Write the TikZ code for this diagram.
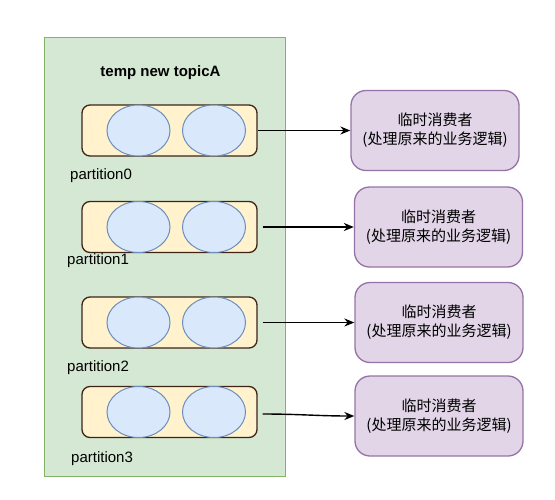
\documentclass[tikz,border=0pt]{standalone}
\usepackage{fontspec}
\setmainfont{Liberation Sans}
\newfontfamily\cjk{Noto Sans CJK SC}
\usetikzlibrary{shapes.geometric,arrows.meta}
\definecolor{gfill}{HTML}{D5E8D4}
\definecolor{gline}{HTML}{82B366}
\definecolor{yfill}{HTML}{FFF2CC}
\definecolor{yline}{HTML}{3D2417}
\definecolor{bfill}{HTML}{DAE8FC}
\definecolor{bline}{HTML}{6C8EBF}
\definecolor{pfill}{HTML}{E1D5E7}
\definecolor{pline}{HTML}{9673A6}
\tikzset{
  topicbox/.style={draw=gline,fill=gfill,line width=1.3pt,minimum width=241pt,minimum height=439pt,inner sep=0pt,anchor=north west},
  partbox/.style={draw=yline,fill=yfill,line width=1.3pt,rounded corners=8pt,minimum width=175pt,minimum height=51pt,inner sep=0pt},
  msg/.style={ellipse,draw=bline,fill=bfill,line width=1pt,minimum width=63pt,minimum height=51pt,inner sep=0pt},
  consumer/.style={draw=pline,fill=pfill,line width=1.3pt,rounded corners=15pt,minimum width=168pt,minimum height=80pt,inner sep=0pt,align=center,font=\cjk\fontsize{15}{19}\selectfont},
  plabel/.style={anchor=west,inner sep=0pt,font=\fontsize{15}{18}\selectfont},
  conn/.style={line width=1.4pt,-{Stealth[length=10pt,width=8pt]}}
}
\begin{document}
\begin{tikzpicture}[x=1pt,y=-1pt]
\useasboundingbox (0,0) rectangle (555,499);
\node[topicbox] (topic) at (44,37) {};
\node[font=\bfseries\fontsize{15}{18}\selectfont] (title) at (160.5,73) {temp new topicA};
% partitions
\node[partbox] (P0) at (169.5,130.5) {};
\node[partbox] (P1) at (169.5,227) {};
\node[partbox] (P2) at (169.5,322.5) {};
\node[partbox] (P3) at (169.5,412) {};
\foreach \i/\y in {0/130.5,1/227,2/322.5,3/412}{
  \node[msg] (m\i a) at (138.5,\y) {};
  \node[msg] (m\i b) at (214,\y) {};
}
\node[plabel] (L0) at (70,176) {partition0};
\node[plabel] (L1) at (67,261) {partition1};
\node[plabel] (L2) at (67,368) {partition2};
\node[plabel] (L3) at (71,459) {partition3};
% consumers
\node[consumer] (C0) at (435,130.5) {临时消费者\\(处理原来的业务逻辑)};
\node[consumer] (C1) at (438.5,227) {临时消费者\\(处理原来的业务逻辑)};
\node[consumer] (C2) at (439,322.5) {临时消费者\\(处理原来的业务逻辑)};
\node[consumer] (C3) at (439,416) {临时消费者\\(处理原来的业务逻辑)};
% connectors
\draw[conn] (P0.east) -- (C0.west);
\draw[conn] ([xshift=5pt]P1.east) -- (C1.west);
\draw[conn] ([xshift=5pt]P2.east) -- (C2.west);
\draw[conn] ([xshift=5pt,yshift=-2pt]P3.east) to[out=0,in=180] (C3.west);
\end{tikzpicture}
\end{document}
